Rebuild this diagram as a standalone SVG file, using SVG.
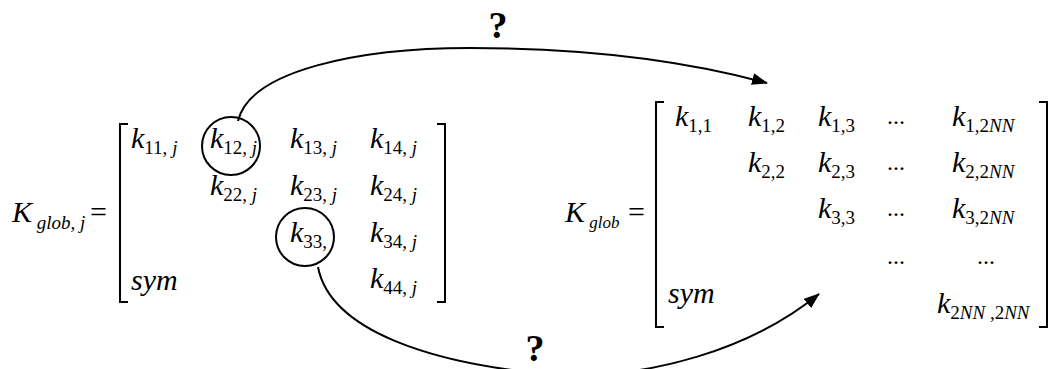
<svg xmlns="http://www.w3.org/2000/svg" width="1052" height="369" viewBox="0 0 1052 369">
<defs>
<style>
text{font-family:'Liberation Serif','Times New Roman',serif;fill:#000}
.k{font-size:30px;font-style:italic}
.s{font-size:19px;font-style:normal}
.si{font-size:19px;font-style:italic}
.up{font-size:30px;font-style:normal}
.q{font-size:38px;font-weight:bold;text-anchor:middle}
.br{fill:none;stroke:#000;stroke-width:2}
.ln{fill:none;stroke:#000;stroke-width:2}
.dots{font-size:24px;font-style:normal}
</style>
<marker id="ah" viewBox="0 0 16 12" refX="15" refY="6" markerWidth="16" markerHeight="12" markerUnits="userSpaceOnUse" orient="auto">
<path d="M0,0 L16,6 L0,12 Z" fill="#000"/>
</marker>
</defs>
<rect width="1052" height="369" fill="#fff"/>
<g id="matrix-local" font-family="'Liberation Serif', serif">
<text class="k" x="12" y="222">K<tspan class="si" dy="7"> glob, j</tspan></text>
<text class="up" x="90" y="222">=</text>
<path class="br" d="M128,124 H120 V302 H128"/>
<path class="br" d="M437,124 H445 V302 H437"/>
<text class="k" x="131" y="148">k<tspan class="s" dy="6">11,</tspan><tspan class="si"> j</tspan></text>
<text class="k" x="210" y="148">k<tspan class="s" dy="6">12,</tspan><tspan class="si"> j</tspan></text>
<text class="k" x="290" y="148">k<tspan class="s" dy="6">13,</tspan><tspan class="si"> j</tspan></text>
<text class="k" x="370" y="148">k<tspan class="s" dy="6">14,</tspan><tspan class="si"> j</tspan></text>
<text class="k" x="210" y="195">k<tspan class="s" dy="6">22,</tspan><tspan class="si"> j</tspan></text>
<text class="k" x="290" y="195">k<tspan class="s" dy="6">23,</tspan><tspan class="si"> j</tspan></text>
<text class="k" x="370" y="195">k<tspan class="s" dy="6">24,</tspan><tspan class="si"> j</tspan></text>
<text class="k" x="290" y="242">k<tspan class="s" dy="6">33,</tspan></text>
<text class="k" x="370" y="242">k<tspan class="s" dy="6">34,</tspan><tspan class="si"> j</tspan></text>
<text class="k" x="370" y="288">k<tspan class="s" dy="6">44,</tspan><tspan class="si"> j</tspan></text>
<text class="k" x="131" y="290">sym</text>
</g>
<g id="matrix-global" font-family="'Liberation Serif', serif">
<text class="k" x="565" y="222">K<tspan class="si" dy="6" style="font-size:17px"> glob</tspan></text>
<text class="up" x="628" y="222">=</text>
<path class="br" d="M664,102 H656 V327 H664"/>
<path class="br" d="M1039,102 H1047 V327 H1039"/>
<text class="k" x="675" y="126">k<tspan class="s" dy="6">1,1</tspan></text>
<text class="k" x="748" y="126">k<tspan class="s" dy="6">1,2</tspan></text>
<text class="k" x="818" y="126">k<tspan class="s" dy="6">1,3</tspan></text>
<text class="dots" x="887" y="124">...</text>
<text class="k" x="952" y="126">k<tspan class="s" dy="6">1,2</tspan><tspan class="si">NN</tspan></text>
<text class="k" x="748" y="172">k<tspan class="s" dy="6">2,2</tspan></text>
<text class="k" x="818" y="172">k<tspan class="s" dy="6">2,3</tspan></text>
<text class="dots" x="887" y="170">...</text>
<text class="k" x="952" y="172">k<tspan class="s" dy="6">2,2</tspan><tspan class="si">NN</tspan></text>
<text class="k" x="818" y="218">k<tspan class="s" dy="6">3,3</tspan></text>
<text class="dots" x="887" y="216">...</text>
<text class="k" x="952" y="218">k<tspan class="s" dy="6">3,2</tspan><tspan class="si">NN</tspan></text>
<text class="dots" x="887" y="264">...</text>
<text class="dots" x="977" y="264">...</text>
<text class="k" x="937" y="313">k<tspan class="s" dy="6">2</tspan><tspan class="si">NN </tspan><tspan class="s">,2</tspan><tspan class="si">NN</tspan></text>
<text class="k" x="668" y="303">sym</text>
</g>
<g id="connectors">
<circle class="ln" cx="231" cy="146" r="29"/>
<circle class="ln" cx="305" cy="237" r="29"/>
<path class="ln" d="M238,121 C250,70 360,48 470,48 C590,48 690,62 767,83" marker-end="url(#ah)"/>
<path class="ln" d="M318,267 C330,330 430,365 560,375 C650,378 750,350 819,294" marker-end="url(#ah)"/>
</g>
<g id="labels" font-family="'Liberation Serif', serif">
<text class="q" x="498" y="38">?</text>
<text class="q" x="535" y="361">?</text>
</g>
</svg>
